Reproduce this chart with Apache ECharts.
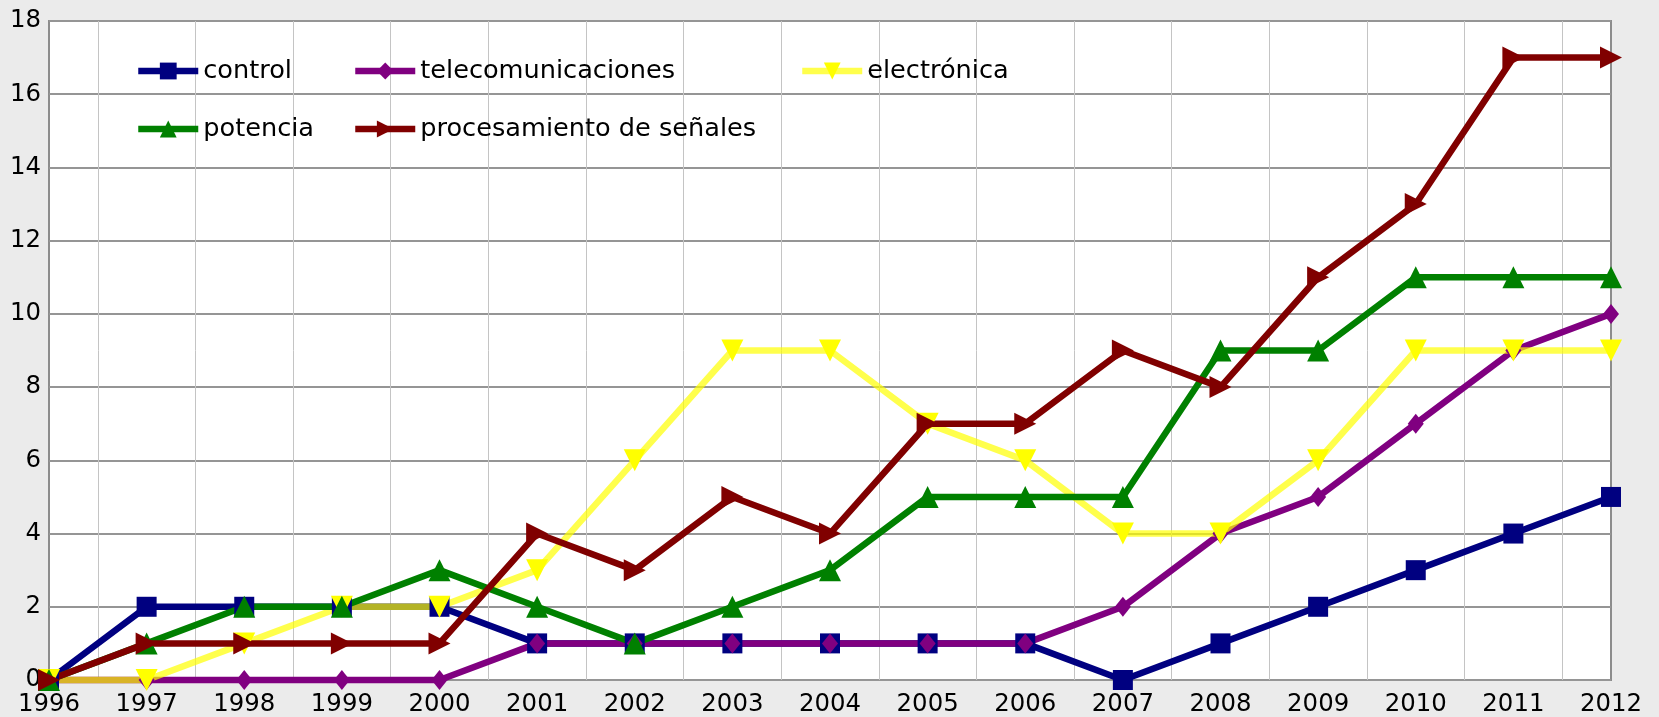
<!DOCTYPE html>
<html>
<head>
<meta charset="utf-8">
<script src="https://cdn.jsdelivr.net/npm/echarts@6/dist/echarts.min.js"></script>
<style>html,body{margin:0;padding:0;background:#ebebeb;}#c{width:1659px;height:717px;}</style>
</head>
<body>
<div id="c"></div>
<script>
const years = [1996,1997,1998,1999,2000,2001,2002,2003,2004,2005,2006,2007,2008,2009,2010,2011,2012];
const control = [0,2,2,2,2,1,1,1,1,1,1,0,1,2,3,4,5];
const telecomunicaciones = [0,0,0,0,0,1,1,1,1,1,1,2,4,5,7,9,10];
const electronica = [0,0,1,2,2,3,6,9,9,7,6,4,4,6,9,9,9];
const potencia = [0,1,2,2,3,2,1,2,3,5,5,5,9,9,11,11,11];
const procesamiento = [0,1,1,1,1,4,3,5,4,7,7,9,8,11,13,17,17];
const yTicks = [0,2,4,6,8,10,12,14,16,18];

const FONT = 'DejaVu Sans';
const pairs = arr => years.map((y,i)=>[y, arr[i]]);

const defs = [
  {name:'control', data:control, color:'#000080', symbol:'rect', size:20, rot:0, op:1},
  {name:'telecomunicaciones', data:telecomunicaciones, color:'#800080', symbol:'diamond', size:[16,20], rot:0, op:1},
  {name:'electrónica', data:electronica, color:'#ffff00', symbol:'triangle', size:22, rot:180, op:0.7},
  {name:'potencia', data:potencia, color:'#008000', symbol:'triangle', size:22, rot:0, op:1},
  {name:'procesamiento de señales', data:procesamiento, color:'#800000', symbol:'triangle', size:22, rot:-90, op:1}
];

const legendPos = [[135,58],[352,58],[799,58],[135,116],[352,116]];

const chart = echarts.init(document.getElementById('c'));
chart.setOption({
  backgroundColor:'#ebebeb',
  animation:false,
  textStyle:{fontFamily:FONT},
  grid:{left:49,right:48,top:21,bottom:36,show:true,backgroundColor:'#ffffff',borderColor:'#8c8c8c',borderWidth:2},
  legend: defs.map((d,i)=>({
    data:[d.name], left:legendPos[i][0], top:legendPos[i][1], padding:0,
    itemWidth:60, itemHeight:21, itemGap:8,
    lineStyle:{width:6.5},
    textStyle:{fontSize:25.6, color:'#000', fontFamily:FONT}
  })),
  xAxis:{
    type:'value', min:1996, max:2012, interval:1,
    axisLine:{show:false}, axisTick:{show:false},
    splitLine:{show:false},
    minorTick:{show:false, splitNumber:2},
    minorSplitLine:{show:true, lineStyle:{color:'#c4c4c4', width:1}},
    axisLabel:{fontSize:24.4, color:'#000', margin:13, fontFamily:FONT, formatter:v=>String(v)}
  },
  yAxis:{
    type:'value', min:yTicks[0], max:yTicks[yTicks.length-1], interval:2,
    axisLine:{show:false}, axisTick:{show:false},
    splitLine:{show:true, lineStyle:{color:'#959595', width:2}},
    axisLabel:{fontSize:24.4, color:'#000', margin:8, fontFamily:FONT}
  },
  series: defs.map(d=>({
    name:d.name, type:'line', data:pairs(d.data), clip:false,
    symbol:d.symbol, symbolSize:d.size, symbolRotate:d.rot,
    showAllSymbol:true,
    lineStyle:{color:d.color, width:6.5, opacity:d.op},
    itemStyle:{color:d.color, opacity:1}
  }))
});
</script>
</body>
</html>
